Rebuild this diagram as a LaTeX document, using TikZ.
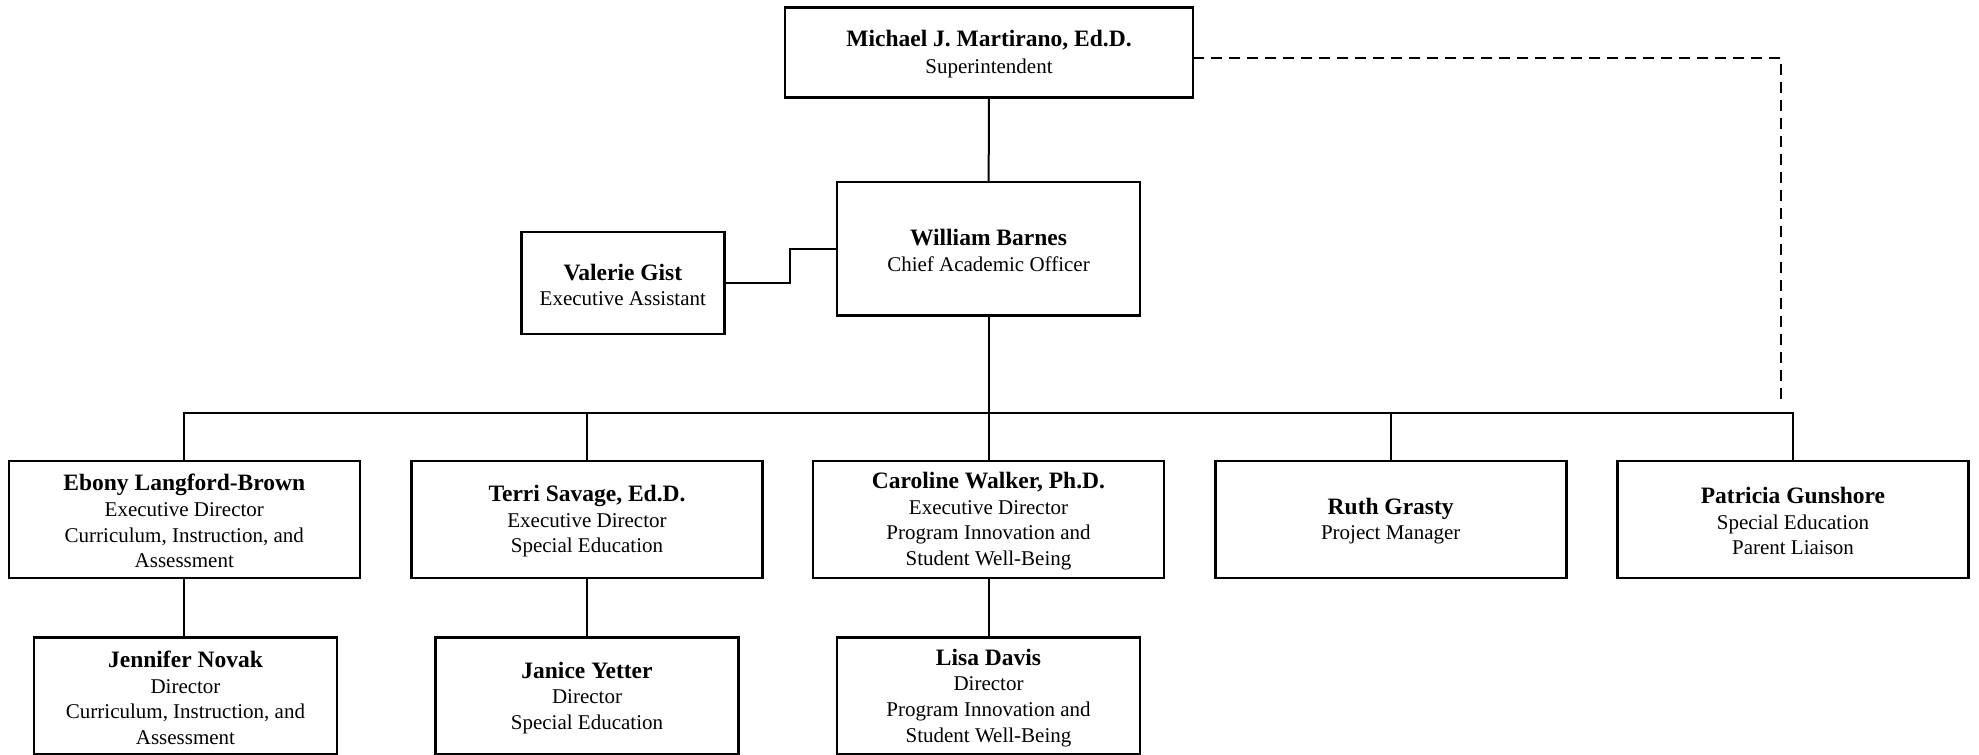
\documentclass[tikz,border=0pt]{standalone}
\usepackage{fontspec}
\setmainfont{Liberation Serif}
\begin{document}
\begin{tikzpicture}[x=1pt,y=-1pt,
  box/.style={draw, line width=2.6pt, inner sep=0pt, outer sep=0pt, align=center,
    font=\fontsize{21}{25.6}\selectfont},
  rowtwo/.style={box, minimum width=351pt, minimum height=117pt},
  rowthree/.style={box, minimum width=303pt, minimum height=117pt},
  conn/.style={line width=2pt},
  dashconn/.style={line width=2pt, dash pattern=on 11pt off 7pt}]
\newcommand{\nm}[1]{{\bfseries\fontsize{23.5}{26}\selectfont\rule{0pt}{20pt}#1}}
\useasboundingbox (0,0) rectangle (1979,755);
\fill[white] (0,0) rectangle (1979,755);
% top
\node[box, minimum width=408pt, minimum height=90pt] (mike) at (989,52.4)
  {\nm{Michael J. Martirano, Ed.D.}\\[2pt]Superintendent};
\node[box, minimum width=303pt, minimum height=133.5pt] (will) at (988.5,248.7)
  {\nm{William Barnes}\\Chief Academic Officer};
\node[box, minimum width=203pt, minimum height=102pt] (val) at (622.8,283)
  {\nm{Valerie Gist}\\Executive Assistant};
% row two
\node[rowtwo] (ebony) at (184.3,519.4)
  {\nm{Ebony Langford-Brown}\\Executive Director\\Curriculum, Instruction, and\\Assessment};
\node[rowtwo] (terri) at (587,519.4)
  {\nm{Terri Savage, Ed.D.}\\Executive Director\\Special Education};
\node[rowtwo] (caro) at (988.5,519.4)
  {\nm{Caroline Walker, Ph.D.}\\Executive Director\\Program Innovation and\\Student Well-Being};
\node[rowtwo] (ruth) at (1390.7,519.4)
  {\nm{Ruth Grasty}\\Project Manager};
\node[rowtwo] (pat) at (1793,519.4)
  {\nm{Patricia Gunshore}\\Special Education\\Parent Liaison};
% row three
\node[rowthree] (jen) at (185.5,696)
  {\nm{Jennifer Novak}\\Director\\Curriculum, Instruction, and\\Assessment};
\node[rowthree] (jan) at (587,696)
  {\nm{Janice Yetter}\\Director\\Special Education};
\node[rowthree] (lisa) at (988.5,696)
  {\nm{Lisa Davis}\\Director\\Program Innovation and\\Student Well-Being};
% connectors
\coordinate (bus) at (988.5,413);
\coordinate (vb) at (790,283);
\coordinate (dc) at (1781,58);
\coordinate (dend) at (1781,404);
\draw[conn] (mike) -- (will);
\draw[conn] (val.east) -- (vb) |- (will.west);
\draw[conn] (will.south) -- (bus);
\draw[conn] (ebony.north) |- (bus) -| (pat.north);
\draw[conn] (terri.north) -- (terri.north |- bus);
\draw[conn] (caro.north) -- (caro.north |- bus);
\draw[conn] (ruth.north) -- (ruth.north |- bus);
\draw[conn] (ebony.south) -- (ebony.south |- jen.north);
\draw[conn] (terri.south) -- (terri.south |- jan.north);
\draw[conn] (caro.south) -- (caro.south |- lisa.north);
\draw[dashconn] (mike.east |- dc) -| (dend);
\end{tikzpicture}
\end{document}
